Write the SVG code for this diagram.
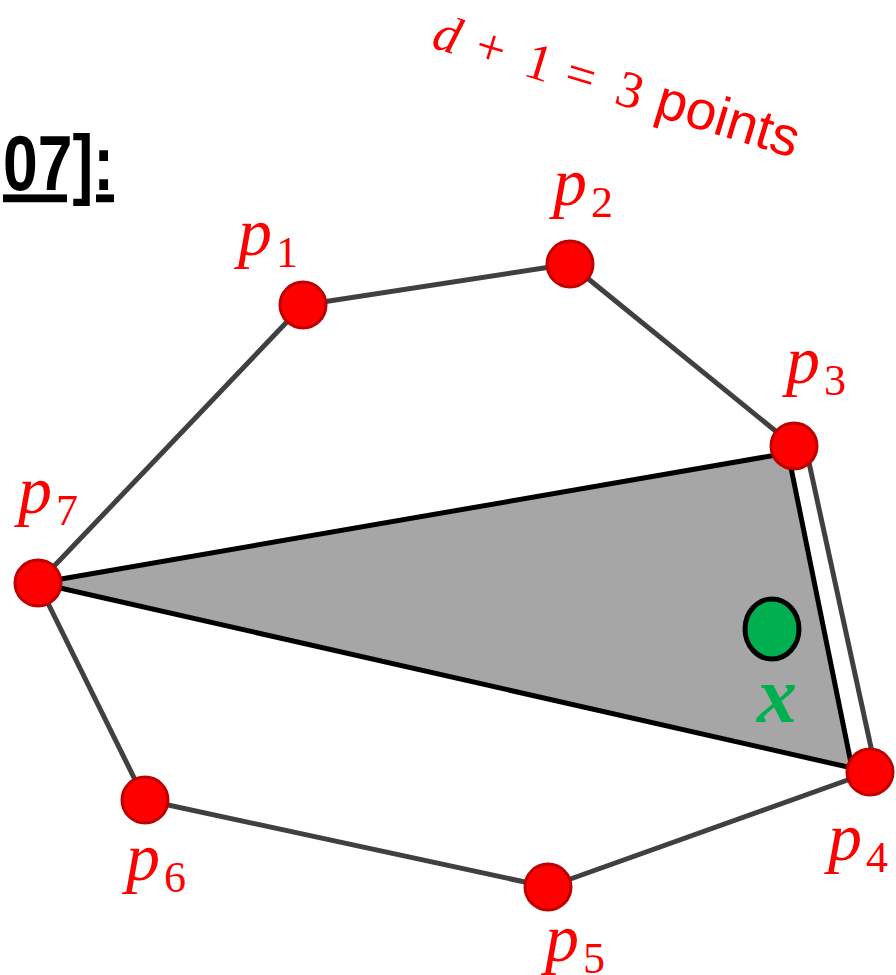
<svg xmlns="http://www.w3.org/2000/svg" width="896" height="975" viewBox="0 0 896 975">
<style>
.edge{stroke:#404040;stroke-width:5;fill:none}
.pt{fill:#ff0000;stroke:#c00000;stroke-width:3}
.lbl{font-family:"Liberation Serif","DejaVu Serif",serif;font-style:italic;fill:#ff0000;font-size:68px}
.sub{font-style:normal;font-size:44px}
.m{font-family:"Liberation Serif","DejaVu Serif",serif}
</style>
<rect width="896" height="975" fill="#ffffff"/>
<text transform="translate(3,190) scale(0.8,1)" font-family="Liberation Sans,Arial,sans-serif" font-weight="bold" font-size="78" text-decoration="underline" fill="#000">07]:</text>
<g transform="translate(430,47) rotate(17)" fill="#ff0000" font-size="52">
<text class="m" x="0" y="0" font-style="italic">d</text>
<text class="m" x="44" y="0">+</text>
<text class="m" x="96" y="0">1</text>
<text class="m" x="138" y="0">=</text>
<text class="m" x="191" y="0">3</text>
<text x="233" y="0" font-family="Liberation Sans,Arial,sans-serif" font-size="55">points</text>
</g>
<g id="triangle">
<polygon points="38,583 788,453 852,768" fill="#a6a6a6" stroke="#000" stroke-width="5" stroke-linejoin="miter"/>
</g>
<g id="connectors">
<line class="edge" x1="38" y1="583" x2="303" y2="305"/>
<line class="edge" x1="303" y1="305" x2="570" y2="264"/>
<line class="edge" x1="570" y1="264" x2="794" y2="446"/>
<line class="edge" x1="808" y1="458" x2="872" y2="752"/>
<line class="edge" x1="870" y1="772" x2="548" y2="887"/>
<line class="edge" x1="548" y1="887" x2="145" y2="800"/>
<line class="edge" x1="145" y1="800" x2="38" y2="583"/>
</g>
<g id="x">
<ellipse cx="772" cy="629" rx="27" ry="30" fill="#00b050" stroke="#000" stroke-width="5"/>
<text x="757" y="722" font-family="Liberation Serif,serif" font-style="italic" font-weight="bold" font-size="80" fill="#00b050">x</text>
</g>
<g id="p1"><circle class="pt" cx="303" cy="305" r="23"/><text class="lbl" x="238" y="255">p<tspan class="sub" dx="4" dy="12">1</tspan></text></g>
<g id="p2"><circle class="pt" cx="570" cy="264" r="23"/><text class="lbl" x="553" y="205">p<tspan class="sub" dx="4" dy="12">2</tspan></text></g>
<g id="p3"><circle class="pt" cx="794" cy="446" r="23"/><text class="lbl" x="786" y="383">p<tspan class="sub" dx="4" dy="12">3</tspan></text></g>
<g id="p4"><circle class="pt" cx="870" cy="772" r="23"/><text class="lbl" x="828" y="860">p<tspan class="sub" dx="4" dy="12">4</tspan></text></g>
<g id="p5"><circle class="pt" cx="548" cy="887" r="23"/><text class="lbl" x="545" y="961">p<tspan class="sub" dx="4" dy="12">5</tspan></text></g>
<g id="p6"><circle class="pt" cx="145" cy="800" r="23"/><text class="lbl" x="126" y="880">p<tspan class="sub" dx="4" dy="12">6</tspan></text></g>
<g id="p7"><circle class="pt" cx="38" cy="583" r="23"/><text class="lbl" x="18" y="513">p<tspan class="sub" dx="4" dy="12">7</tspan></text></g>
</svg>
